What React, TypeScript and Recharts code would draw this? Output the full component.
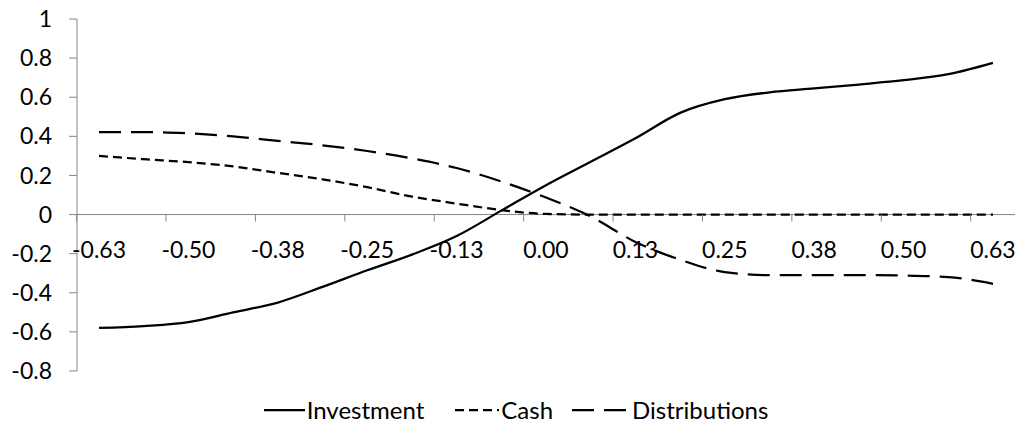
import React from "react";
import { LineChart, Line, XAxis, YAxis, ReferenceLine, Legend } from "recharts";

const categories = ["-0.63","-0.56","-0.50","-0.44","-0.38","-0.31","-0.25","-0.19","-0.13","-0.06","0.00","0.06","0.13","0.19","0.25","0.31","0.38","0.44","0.50","0.56","0.63"];
const investment = [-0.58,-0.57,-0.55,-0.5,-0.45,-0.37,-0.285,-0.205,-0.11,0.02,0.15,0.27,0.39,0.52,0.59,0.625,0.645,0.665,0.687,0.718,0.776];
const cash = [0.3,0.283,0.268,0.246,0.213,0.18,0.14,0.092,0.056,0.023,0.003,0,0,0,0,0,0,0,0,0,0];
const distributions = [0.422,0.422,0.415,0.4,0.377,0.354,0.325,0.287,0.238,0.169,0.087,-0.01,-0.14,-0.231,-0.294,-0.31,-0.31,-0.31,-0.312,-0.32,-0.354];
const yTicks = [-0.8,-0.6,-0.4,-0.2,0,0.2,0.4,0.6,0.8,1];
const seriesNames = ["Investment", "Cash", "Distributions"];

const data = categories.map((c, i) => ({
  cat: c,
  Investment: investment[i],
  Cash: cash[i],
  Distributions: distributions[i],
}));

const W = 1020;
const H = 429;
const PLOT_LEFT = 77;
const PLOT_RIGHT = 1015;
const PLOT_TOP = 19;
const PLOT_BOTTOM = 371;
const PAD = 22;
const Y_MIN = -0.8;
const Y_MAX = 1;
const FONT = "Lato, 'Open Sans', sans-serif";
const FS = 23;
const AXIS = "#868686";

const zeroY = PLOT_TOP + ((Y_MAX - 0) / (Y_MAX - Y_MIN)) * (PLOT_BOTTOM - PLOT_TOP);
const step = (PLOT_RIGHT - PLOT_LEFT - 2 * PAD) / (categories.length - 1);

const XTick = (props: any) => {
  const { x, payload } = props;
  return (
    <g>
      <line x1={x - step / 2} x2={x - step / 2} y1={zeroY} y2={zeroY + 7} stroke={AXIS} strokeWidth={1} />
      <text x={x} y={zeroY + 27} dy="0.71em" textAnchor="middle" fill="#000" fontSize={FS} fontFamily={FONT}>
        {payload.value}
      </text>
    </g>
  );
};

const dashes: Record<string, string | undefined> = {
  Investment: undefined,
  Cash: "9 5",
  Distributions: "22 10",
};
const sampleW: Record<string, number> = { Investment: 41, Cash: 44, Distributions: 58 };
const gapAfter: Record<string, number> = { Investment: 31, Cash: 19, Distributions: 0 };

const LegendContent = () => {
  return (
    <div style={{ display: "flex", justifyContent: "center", alignItems: "center", width: W, fontFamily: FONT, fontSize: 24, color: "#000", paddingLeft: 12, boxSizing: "border-box" }}>
      {seriesNames.map((name) => (
        <div key={name} style={{ display: "flex", alignItems: "center", marginRight: gapAfter[name] }}>
          <svg width={sampleW[name]} height={10} style={{ marginRight: 2 }}>
            <line x1={0} x2={sampleW[name]} y1={5} y2={5} stroke="#000" strokeWidth={2.25} strokeDasharray={dashes[name]} />
          </svg>
          <span style={{ lineHeight: "28px" }}>{name}</span>
        </div>
      ))}
    </div>
  );
};

export default function App() {
  return (
    <div style={{ position: "absolute", left: 0, top: 0, width: W, height: H, background: "#fff" }}>
      <LineChart
        width={W}
        height={H}
        data={data}
        margin={{ top: PLOT_TOP, right: W - PLOT_RIGHT, left: PLOT_LEFT - 60, bottom: H - PLOT_BOTTOM - 30 }}
      >
        <XAxis
          dataKey="cat"
          type="category"
          interval={1}
          padding={{ left: PAD, right: PAD }}
          axisLine={false}
          tickLine={false}
          tick={<XTick />}
          height={30}
        />
        <YAxis
          domain={[Y_MIN, Y_MAX]}
          ticks={yTicks}
          type="number"
          width={60}
          allowDataOverflow
          axisLine={{ stroke: AXIS, strokeWidth: 1 }}
          tickLine={{ stroke: AXIS, strokeWidth: 1 }}
          tickSize={8}
          tickMargin={17}
          tick={{ fill: "#000", fontSize: FS, fontFamily: FONT }}
          tickFormatter={(v: number) => String(Number(v.toFixed(1)))}
        />
        <ReferenceLine y={0} stroke={AXIS} strokeWidth={1} />
        <Line type="monotone" dataKey="Investment" stroke="#000" strokeWidth={2.25} dot={false} isAnimationActive={false} />
        <Line type="monotone" dataKey="Cash" stroke="#000" strokeWidth={2.25} strokeDasharray={dashes.Cash} dot={false} isAnimationActive={false} />
        <Line type="monotone" dataKey="Distributions" stroke="#000" strokeWidth={2.25} strokeDasharray={dashes.Distributions} dot={false} isAnimationActive={false} />
        <Legend
          layout="horizontal"
          verticalAlign="middle"
          align="center"
          content={<LegendContent />}
          wrapperStyle={{ top: 396, left: 0, width: W }}
        />
      </LineChart>
    </div>
  );
}
